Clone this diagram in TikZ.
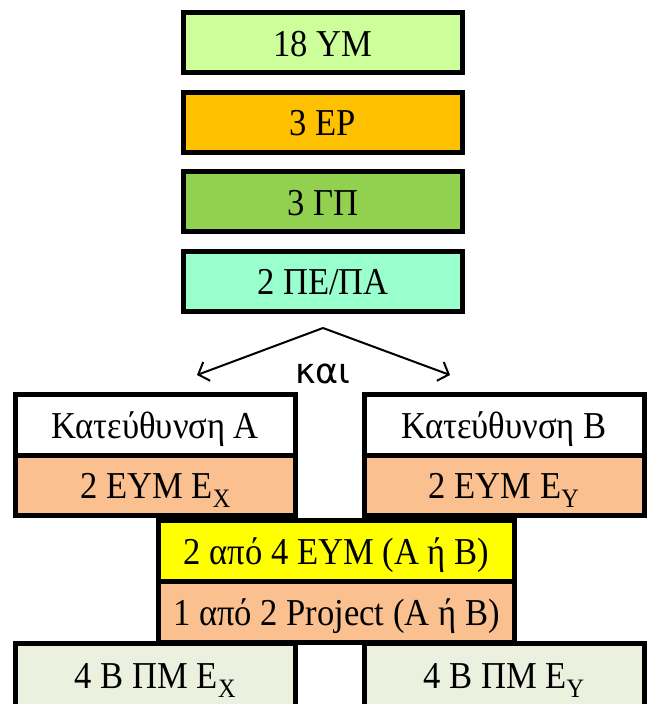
\documentclass[tikz,border=0pt]{standalone}
\usepackage{fontspec}
\setmainfont{Liberation Serif}[FakeStretch=0.91]
\newfontfamily\kaifont{DejaVu Sans}
\usepackage{xcolor}
\usetikzlibrary{arrows.meta}

\definecolor{ymgreen}{HTML}{CCFF99}
\definecolor{epgold}{HTML}{FFC000}
\definecolor{gpgreen}{HTML}{92D050}
\definecolor{peaqua}{HTML}{99FFCC}
\definecolor{eympeach}{HTML}{FAC090}
\definecolor{choiceyellow}{HTML}{FFFF00}
\definecolor{pmpale}{HTML}{EBF1DE}

\tikzset{
  box/.style={rectangle, draw=black, line width=5pt, outer sep=0pt, inner sep=0pt,
    text height=31pt, text depth=4pt, font=\fontsize{38}{42}\selectfont},
  topbox/.style={box, minimum width=279pt, minimum height=60pt},
  sidebox/.style={box, minimum width=280pt, minimum height=60.5pt},
  midbox/.style={box, minimum width=356pt, minimum height=61pt},
  branch/.style={line width=2pt, -{Straight Barb[length=9pt,width=20pt,line width=2pt]}}
}

\begin{document}
\begin{tikzpicture}[x=1pt, y=-1pt]
            \useasboundingbox (0,0) rectangle (649,704);
            \clip (0,0) rectangle (649,704);
            % common part
            \node (ym) at (323, 42.5) [topbox, fill=ymgreen] {18 ΥΜ};
            \node (ep) at (323, 122) [topbox, fill=epgold] {3 ΕΡ};
            \node (gp) at (323, 201.5) [topbox, fill=gpgreen] {3 ΓΠ};
            \node (pepa) at (323, 281) [topbox, fill=peaqua] {2 ΠΕ/ΠΑ};
            % split
            \coordinate (apex) at (323, 328);
            \coordinate (tipA) at (197, 375);
            \coordinate (tipB) at (450, 375);
            \node (kai) at (323, 383) [anchor=base, inner sep=0pt, font=\kaifont\fontsize{35}{38}\selectfont] {και};
            \draw [branch] (apex) -- (tipA);
            \draw [branch] (apex) -- (tipB);
            % directions
            \node (katA) at (155.5, 424.75) [sidebox, fill=white] {Κατεύθυνση Α};
            \node (katB) at (504, 424.75) [sidebox, fill=white] {Κατεύθυνση Β};
            \node (eymA) at (155.5, 485.25) [sidebox, fill=eympeach] {2 ΕΥΜ Ε\textsubscript{X}};
            \node (eymB) at (504, 485.25) [sidebox, fill=eympeach] {2 ΕΥΜ Ε\textsubscript{Y}};
            \node (choice) at (336.5, 550.5) [midbox, fill=choiceyellow] {2 από 4 ΕΥΜ (Α ή Β)};
            \node (project) at (336.5, 611.5) [midbox, fill=eympeach] {1 από 2 Project (Α ή Β)};
            \node (pmA) at (155.5, 675) [sidebox, minimum height=64pt, fill=pmpale] {4 Β ΠΜ Ε\textsubscript{X}};
            \node (pmB) at (504, 675) [sidebox, minimum height=64pt, fill=pmpale] {4 Β ΠΜ Ε\textsubscript{Y}};
        \end{tikzpicture}
\end{document}
